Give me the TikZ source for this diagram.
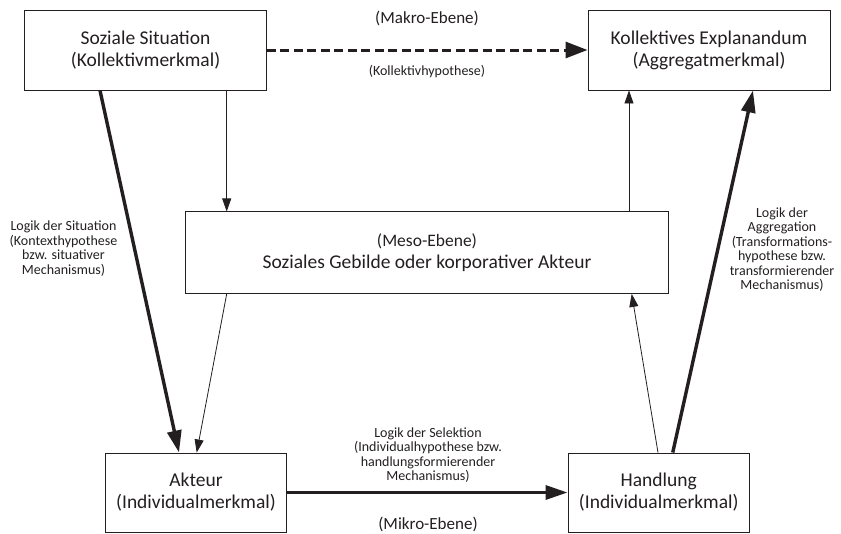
\documentclass[tikz,border=0pt]{standalone}
\usepackage{fontspec}
\setmainfont{Carlito}
\usetikzlibrary{arrows.meta}
\definecolor{ink}{HTML}{231F20}
\begin{document}
\begin{tikzpicture}[x=1pt,y=-1pt,
  box/.style={draw=ink,line width=0.95pt,text=ink,align=center,inner sep=0pt,
    font=\fontsize{19.5}{22}\selectfont},
  thin/.style={draw=ink,line width=0.8pt,-{Triangle[length=13pt,width=9pt]}},
  thick/.style={draw=ink,line width=3.4pt,-{Triangle[length=22pt,width=14pt]}},
  dashy/.style={draw=ink,line width=3pt,dash pattern=on 9pt off 4.5pt,-{Triangle[length=22pt,width=16pt]}},
  small/.style={text=ink,align=center,inner sep=0pt,font=\fontsize{14}{14.5}\selectfont},
  mid/.style={text=ink,align=center,inner sep=0pt,font=\fontsize{17}{20}\selectfont}]
\useasboundingbox (0,0) rectangle (841,533);
\node[box,minimum width=242pt,minimum height=80pt] (sit) at (145.5,50) {Soziale Situation\\(Kollektivmerkmal)};
\node[box,minimum width=242pt,minimum height=80pt] (expl) at (709,50) {Kollektives Explanandum\\(Aggregatmerkmal)};
\node[box,minimum width=483pt,minimum height=81.5pt] (meso) at (427,252.7) {{\fontsize{17.5}{22}\selectfont(Meso-Ebene)}\\Soziales Gebilde oder korporativer Akteur};
\node[box,minimum width=181pt,minimum height=79pt] (akt) at (196,492.5) {Akteur\\(Individualmerkmal)};
\node[box,minimum width=181.5pt,minimum height=79pt] (hand) at (658.75,492.5) {Handlung\\(Individualmerkmal)};

\draw[dashy] (sit.east) -- (expl.west);
\draw[thick] ([xshift=-45.5pt]sit.south) -- ([xshift=-17pt]akt.north);
\draw[thin] ([xshift=81.2pt]sit.south) -- ([xshift=-200.3pt]meso.north);
\draw[thin] ([xshift=-200.3pt]meso.south) -- ([xshift=0.7pt]akt.north);
\draw[thick] (akt.east) -- (hand.west);
\draw[thin] ([xshift=-0.75pt]hand.north) -- ([xshift=204.7pt]meso.south);
\draw[thick] ([xshift=14pt]hand.north) -- ([xshift=44pt]expl.south);
\draw[thin] ([xshift=202pt]meso.north) -- ([xshift=-80pt]expl.south);

\node[mid] (makro) at (427,18) {(Makro-Ebene)};
\node[small] (kollh) at (427,72) {(Kollektivhypothese)};
\node[mid] (mikro) at (428,524) {(Mikro-Ebene)};
\node[small] (lsit) at (63.5,248.5) {Logik der Situation\\(Kontexthypothese\\bzw. situativer\\Mechanismus)};
\node[small] (lagg) at (782,249.5) {Logik der\\Aggregation\\(Transformations-\\hypothese bzw.\\transformierender\\Mechanismus)};
\node[small] (lsel) at (428,455) {Logik der Selektion\\(Individualhypothese bzw.\\handlungsformierender\\Mechanismus)};
\end{tikzpicture}
\end{document}
